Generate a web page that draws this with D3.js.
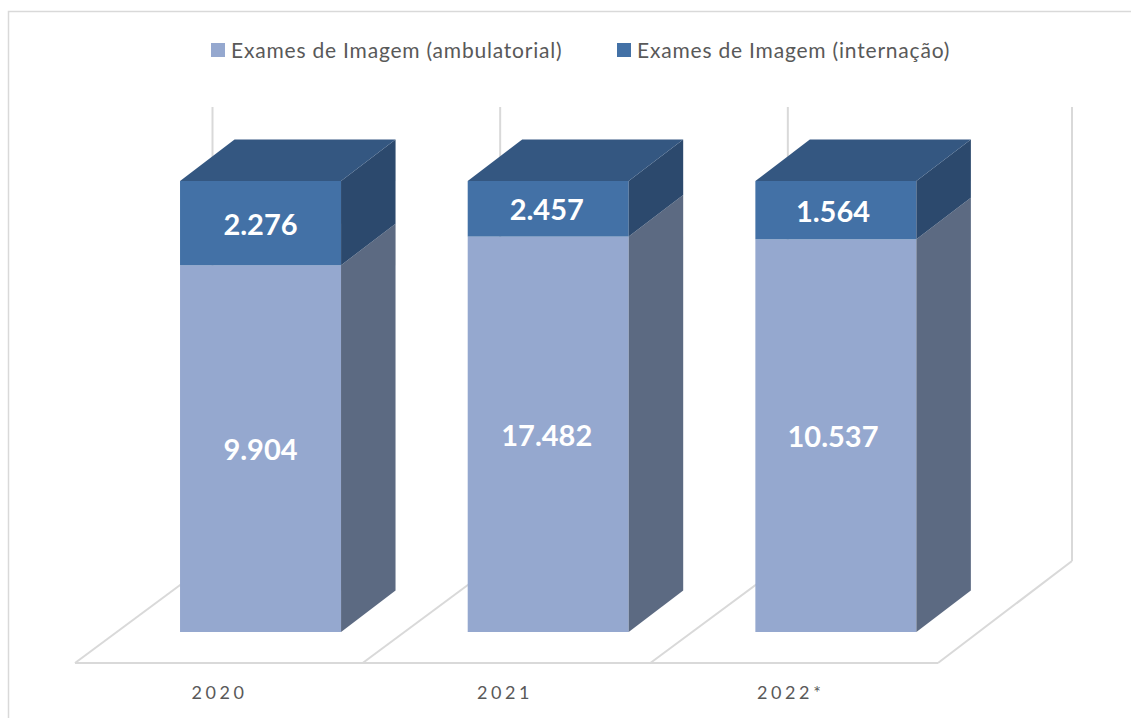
<!DOCTYPE html>
<html>
<head>
<meta charset="utf-8">
<style>
  html, body { margin: 0; padding: 0; background: #fff; }
  svg { display: block; }
  text { font-family: Lato, "Open Sans", sans-serif; }
</style>
<script src="https://cdn.jsdelivr.net/npm/d3@7"></script>
</head>
<body>
<div id="main"></div>
<script>
// chart values
const years = ['2020', '2021', '2022*'];
const ambulatorial = [9904, 17482, 10537];
const internacao = [2276, 2457, 1564];
const seriesNames = ['Exames de Imagem (ambulatorial)', 'Exames de Imagem (internação)'];

function main() {
  const width = 1131;
  const height = 718;
  const svg = d3.select('#main').append('svg')
    .attr('width', width)
    .attr('height', height);

  // pt-BR style thousands
  const fmt = d3.formatLocale({ decimal: ',', thousands: '.', grouping: [3], currency: ['', ''] }).format(',d');

  // floor front edge and the oblique depth of the whole plot
  const x = d3.scaleBand().domain(years).range([75, 938]).paddingInner(0).paddingOuter(0);
  // text runs on a slightly tighter spacing than the bars
  const xValueLabel = d3.scalePoint().domain(years).range([260.5, 833]);
  const xYearLabel = d3.scalePoint().domain(years).range([219.5, 790.7]);
  const floorY = 663;
  const plotDepth = { dx: 137.5, dy: 102 };
  const barDepth = { dx: 54.5, dy: 41.5 };
  const barW = 161;
  // 100% stacked value scale, on the bar's front face
  const y = d3.scaleLinear().domain([0, 1]).range([632, 181]);

  const grid = svg.append('g'); // frame and walls are underlying layer
  const bars = svg.append('g');
  const labels = svg.append('g');

  // chart frame, only top and left show
  grid.append('path')
    .attr('d', `M${width},11.5H8.5V${height}`)
    .attr('fill', 'none')
    .attr('stroke', '#d9d9d9')
    .attr('stroke-width', 1.5);

  // floor + back wall lines
  const backBottom = floorY - plotDepth.dy;
  const backTop = 107;
  const backRight = 1072; // last corner is a bit tighter than the others
  const line = (x1, y1, x2, y2) => grid.append('line')
    .attr('x1', x1).attr('y1', y1).attr('x2', x2).attr('y2', y2)
    .attr('stroke', '#d9d9d9')
    .attr('stroke-width', 2);
  line(x.range()[0], floorY, x.range()[1], floorY);
  years.forEach((d) => {
    line(x(d), floorY, x(d) + plotDepth.dx, backBottom);
    line(x(d) + plotDepth.dx, backBottom, x(d) + plotDepth.dx, backTop);
  });
  line(x.range()[1], floorY, backRight, backBottom);
  line(backRight, backBottom, backRight, backTop);

  const colors = [
    { front: '#95a8cf', side: '#5c6a82' },
    { front: '#4371a6', side: '#2c496d', top: '#345781' },
  ];

  years.forEach((yr, i) => {
    const total = ambulatorial[i] + internacao[i];
    const share = ambulatorial[i] / total;
    // bar sits in the middle of the floor depth
    const x0 = x(yr) + (x.bandwidth() - barW) / 2 + (plotDepth.dx - barDepth.dx) / 2 + 0.2;
    const x1 = x0 + barW;
    const segs = [
      { from: 0, to: share, c: colors[0], v: ambulatorial[i] },
      { from: share, to: 1, c: colors[1], v: internacao[i] },
    ];
    segs.forEach((s) => {
      const yb = y(s.from);
      const yt = y(s.to);
      bars.append('rect')
        .attr('x', x0).attr('y', yt)
        .attr('width', barW).attr('height', yb - yt)
        .attr('fill', s.c.front);
      bars.append('path')
        .attr('d', `M${x1},${yb}L${x1 + barDepth.dx},${yb - barDepth.dy}V${yt - barDepth.dy}L${x1},${yt}Z`)
        .attr('fill', s.c.side);
      if (s.to === 1) {
        bars.append('path')
          .attr('d', `M${x0},${yt}L${x0 + barDepth.dx},${yt - barDepth.dy}H${x1 + barDepth.dx}L${x1},${yt}Z`)
          .attr('fill', s.c.top);
      }
      labels.append('text')
        .attr('x', xValueLabel(yr))
        .attr('y', (yb + yt) / 2 + 1.5)
        .attr('dy', '0.35em')
        .attr('text-anchor', 'middle')
        .attr('font-size', 29)
        .attr('font-weight', 700)
        .attr('fill', '#fff')
        .text(fmt(s.v));
    });
    // category labels
    labels.append('text')
      .attr('x', xYearLabel(yr))
      .attr('y', 699)
      .attr('text-anchor', 'middle')
      .attr('font-size', 18)
      .attr('letter-spacing', 3.6)
      .attr('fill', '#595959')
      .text(yr);
  });

  // legend
  const legendX = [211, 617];
  seriesNames.forEach((name, i) => {
    svg.append('rect')
      .attr('x', legendX[i]).attr('y', 43)
      .attr('width', 14).attr('height', 14)
      .attr('fill', colors[i].front);
    svg.append('text')
      .attr('x', legendX[i] + 20)
      .attr('y', 58)
      .attr('font-size', 21)
      .attr('letter-spacing', 0.8)
      .attr('fill', '#595959')
      .text(name);
  });
}

main();
</script>
</body>
</html>
